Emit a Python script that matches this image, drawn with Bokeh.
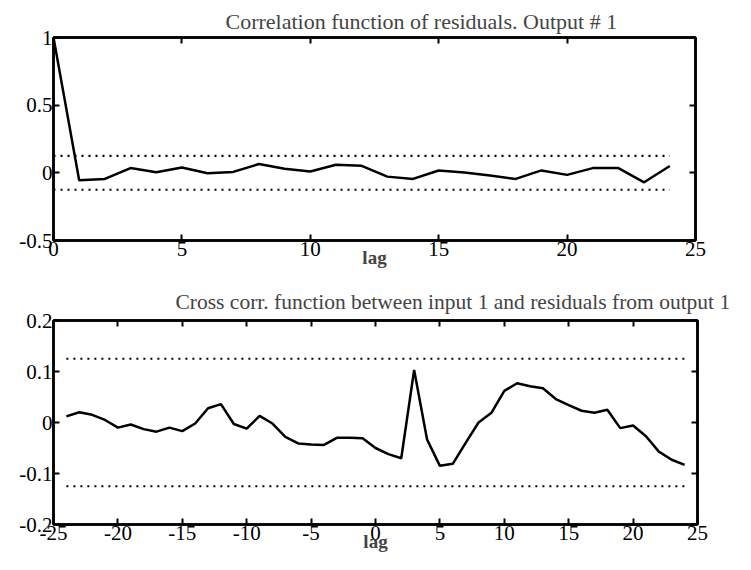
from bokeh.plotting import figure
from bokeh.models import LinearAxis, FixedTicker, Range1d, Title
from bokeh.layouts import column
from bokeh.embed import file_html
from bokeh.resources import INLINE

# ---- data ----
lags_auto = list(range(0, 25))
r_auto = [1.0, -0.055, -0.045, 0.035, 0.005, 0.04, -0.003, 0.007, 0.065, 0.03,
          0.01, 0.06, 0.052, -0.028, -0.045, 0.017, 0.003, -0.02, -0.045, 0.018,
          -0.015, 0.035, 0.035, -0.07, 0.05]
conf_auto = 0.125

lags_cross = list(range(-24, 25))
r_cross = [0.012, 0.02, 0.015, 0.005, -0.01, -0.004, -0.013, -0.018, -0.01, -0.017,
           -0.002, 0.028, 0.036, -0.003, -0.012, 0.013, -0.002, -0.028, -0.041, -0.043,
           -0.044, -0.03, -0.03, -0.031, -0.05, -0.062, -0.07, 0.103, -0.033, -0.085,
           -0.081, -0.04, 0.0, 0.019, 0.062, 0.077, 0.071, 0.067, 0.046, 0.034,
           0.023, 0.019, 0.025, -0.011, -0.006, -0.027, -0.057, -0.073, -0.083]
conf_cross = 0.125

title_auto = "Correlation function of residuals. Output # 1"
title_cross = "Cross corr. function between input 1 and residuals from output 1"
xlabel = "lag"

xticks_auto = [0, 5, 10, 15, 20, 25]
xlabels_auto = {v: str(v) for v in xticks_auto}
yticks_auto = [-0.5, 0, 0.5, 1]
ylabels_auto = {-0.5: "-0.5", 0: "0", 0.5: "0.5", 1: "1"}
xticks_cross = [-25, -20, -15, -10, -5, 0, 5, 10, 15, 20, 25]
xlabels_cross = {v: str(v) for v in xticks_cross}
yticks_cross = [-0.2, -0.1, 0, 0.1, 0.2]
ylabels_cross = {-0.2: "-0.2", -0.1: "-0.1", 0: "0", 0.1: "0.1", 0.2: "0.2"}

FONT = "Liberation Serif"
TICK_SIZE = "21px"
LW = 2.5


def make(xr, yr, xt, yt, xlab, ylab, title, title_offset, title_size, title_standoff,
         fw, fh, mt, mb, mr):
    p = figure(output_backend="svg", toolbar_location=None,
               x_range=Range1d(*xr), y_range=Range1d(*yr),
               frame_width=fw, frame_height=fh,
               min_border_left=53, min_border_right=mr,
               min_border_top=mt, min_border_bottom=mb,
               background_fill_color="white", border_fill_color="white")
    p.title.visible = False
    p.xgrid.visible = False
    p.ygrid.visible = False
    p.outline_line_color = "black"
    p.outline_line_width = LW

    bx = p.below[0]
    bx.ticker = FixedTicker(ticks=xt)
    bx.major_label_overrides = xlab
    by = p.left[0]
    by.ticker = FixedTicker(ticks=yt)
    by.major_label_overrides = ylab
    for ax in (bx, by):
        ax.major_tick_in = 6
        ax.major_tick_out = 0
        ax.minor_tick_line_color = None
        ax.axis_line_width = LW
        ax.major_tick_line_width = 2
        ax.major_label_text_font = FONT
        ax.major_label_text_font_size = TICK_SIZE
        ax.major_label_text_color = "black"
        ax.major_label_standoff = 1
    bx.axis_label = xlabel
    bx.axis_label_text_font = FONT
    bx.axis_label_text_font_size = "19px"
    bx.axis_label_text_font_style = "bold"
    bx.axis_label_standoff = -12

    for loc, ticks in (("above", xt), ("right", yt)):
        ax = LinearAxis(ticker=FixedTicker(ticks=ticks), major_tick_in=6, major_tick_out=0,
                        minor_tick_line_color=None, major_label_text_font_size="1px",
                        major_label_text_color=None,
                        major_label_standoff=0, axis_line_width=LW, major_tick_line_width=2)
        p.add_layout(ax, loc)
    p.add_layout(Title(text=title, align="left", offset=title_offset,
                       text_font=FONT, text_font_size=title_size,
                       text_font_style="normal", standoff=title_standoff), "above")
    return p


p1 = make((0, 25), (-0.5, 1), xticks_auto, yticks_auto, xlabels_auto, ylabels_auto,
          title_auto, 172, "22px", 8, 642, 203, 37, 40, 52)
p1.line(lags_auto, r_auto, line_color="black", line_width=LW)
p1.line([lags_auto[0], lags_auto[-1]], [conf_auto, conf_auto], line_color="black",
        line_width=2.2, line_dash="2 5")
p1.line([lags_auto[0], lags_auto[-1]], [-conf_auto, -conf_auto], line_color="black",
        line_width=2.2, line_dash="2 5")

p2 = make((-25, 25), (-0.2, 0.2), xticks_cross, yticks_cross, xlabels_cross, ylabels_cross,
          title_cross, 122, "21.5px", 14, 644, 204, 38, 40, 50)
p2.line(lags_cross, r_cross, line_color="black", line_width=LW)
p2.line([lags_cross[0], lags_cross[-1]], [conf_cross, conf_cross], line_color="black",
        line_width=2.2, line_dash="2 5")
p2.line([lags_cross[0], lags_cross[-1]], [-conf_cross, -conf_cross], line_color="black",
        line_width=2.2, line_dash="2 5")

layout = column(p1, p2, spacing=0)
open("out.html", "w").write(file_html(layout, INLINE))
